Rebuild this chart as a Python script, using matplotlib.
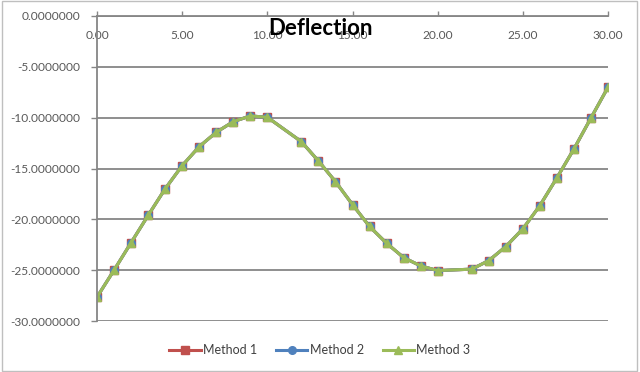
import numpy as np
import matplotlib
matplotlib.use('Agg')
import matplotlib.pyplot as plt
from matplotlib.patches import Rectangle
from matplotlib.ticker import FormatStrFormatter

plt.rcParams['font.family'] = ['Lato', 'DejaVu Sans']

# positions along the beam (11 and 21 are not in the table)
x = [0, 1, 2, 3, 4, 5, 6, 7, 8, 9, 10, 12, 13, 14, 15, 16, 17, 18, 19, 20,
     22, 23, 24, 25, 26, 27, 28, 29, 30]

method1 = [-27.65, -25.00, -22.30, -19.62, -17.00, -14.72, -12.85, -11.44, -10.39, -9.83,
           -9.96, -12.36, -14.26, -16.29, -18.55, -20.70, -22.35, -23.76, -24.58, -25.04,
           -24.90, -24.06, -22.68, -20.94, -18.65, -15.92, -13.08, -10.03, -7.01]
method2 = [-27.65, -25.00, -22.30, -19.62, -17.00, -14.72, -12.85, -11.44, -10.39, -9.83,
           -9.96, -12.36, -14.26, -16.29, -18.55, -20.70, -22.35, -23.76, -24.58, -25.04,
           -24.90, -24.06, -22.68, -20.94, -18.65, -15.92, -13.08, -10.03, -7.01]
method3 = [-27.65, -25.00, -22.30, -19.62, -17.00, -14.72, -12.85, -11.44, -10.39, -9.83,
           -9.96, -12.36, -14.26, -16.29, -18.55, -20.70, -22.35, -23.76, -24.58, -25.04,
           -24.90, -24.06, -22.68, -20.94, -18.65, -15.92, -13.08, -10.03, -7.01]

labels = ['Method 1', 'Method 2', 'Method 3']
colors = ['#C0504D', '#4F81BD', '#9BBB59']
markers = ['s', 'o', '^']

fig = plt.figure(figsize=(6.4, 3.72), dpi=100)
ax = fig.add_axes([97/640, 1-321/372, 511/640, 305/372])

for ys, lab, c, m in zip([method1, method2, method3], labels, colors, markers):
    ax.plot(x, ys, color=c, lw=2.2, marker=m, ms=5.5, mec=c, mfc=c, label=lab)

ax.set_xlim(0, 30)
ax.set_ylim(-30, 0)
ax.set_xticks(np.arange(0, 31, 5))
ax.set_yticks(np.arange(-30, 1, 5))
ax.xaxis.set_major_formatter(FormatStrFormatter('%.2f'))
ax.yaxis.set_major_formatter(FormatStrFormatter('%.7f'))

grid_c = '#868686'
ax.yaxis.grid(True, color=grid_c, lw=1.3)
ax.set_axisbelow(True)
for s in ['right', 'bottom']:
    ax.spines[s].set_visible(False)
for s in ['top', 'left']:
    ax.spines[s].set_color(grid_c)
    ax.spines[s].set_linewidth(1.3)

ax.xaxis.set_ticks_position('top')
ax.tick_params(axis='x', direction='out', length=3.5, color=grid_c, width=1,
               labelsize=8.6, labelcolor='#595959', pad=-21.5)
ax.tick_params(axis='y', direction='out', length=4, color=grid_c, width=1,
               labelsize=8.6, labelcolor='#595959', pad=8)

fig.text(0.5, 1-35/372, 'Deflection', ha='center', va='baseline',
         fontsize=16, fontweight='bold', color='black')

fig.legend(loc='center', bbox_to_anchor=(0.5, 1-350/372), ncol=3, frameon=False,
           fontsize=9, handlelength=2.5, columnspacing=1.5, handletextpad=0.2,
           labelcolor='#404040')

fig.patches.append(Rectangle((0.003, 0.004), 0.993, 0.992, transform=fig.transFigure,
                             fill=False, ec='#BFBFBF', lw=1))

fig.savefig('out.png', dpi=100)
